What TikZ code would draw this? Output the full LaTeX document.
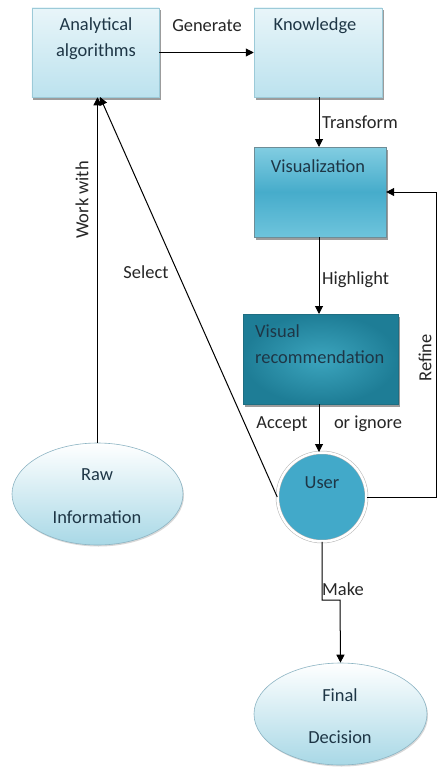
\documentclass[tikz,border=0pt]{standalone}
\usepackage{fontspec}
\setmainfont{Carlito}
\usetikzlibrary{shapes.geometric,arrows.meta,shadows,calc}
\definecolor{inktext}{HTML}{262626}
\definecolor{boxtext}{HTML}{1E3646}
\definecolor{edgeblue}{HTML}{9CCAD8}
\definecolor{paletop}{HTML}{E8F5F9}
\definecolor{palebot}{HTML}{BCE2EE}
\begin{document}
\begin{tikzpicture}[x=1bp,y=-1bp,
  font=\fontsize{18.5}{26}\selectfont,
  every node/.style={inner sep=0pt},
  lightbox/.style={rectangle, draw=edgeblue, line width=0.5bp,
    top color=paletop, bottom color=palebot,
    drop shadow={shadow xshift=1.5bp, shadow yshift=-2.5bp, fill=black!55, opacity=0.7}},
  midbox/.style={rectangle, draw=edgeblue!70!black, line width=0.4bp,
    top color={rgb,255:red,130;green,205;blue,225}, bottom color={rgb,255:red,110;green,196;blue,220},
    middle color={rgb,255:red,70;green,172;blue,203},
    drop shadow={shadow xshift=1.5bp, shadow yshift=-2.5bp, fill=black!55, opacity=0.7}},
  darkbox/.style={rectangle, draw={rgb,255:red,30;green,110;blue,130}, line width=0.4bp,
    shading=radial, inner color={rgb,255:red,60;green,165;blue,190}, outer color={rgb,255:red,30;green,125;blue,150},
    drop shadow={shadow xshift=1.5bp, shadow yshift=-2.5bp, fill=black!55, opacity=0.7}},
  oval/.style={ellipse, draw={rgb,255:red,140;green,180;blue,195}, line width=0.6bp,
    top color=white, bottom color={rgb,255:red,168;green,216;blue,230},
    drop shadow={shadow xshift=1bp, shadow yshift=-1.5bp, fill=black!30, opacity=0.5}},
  txt/.style={text=boxtext, align=center},
  lbl/.style={text=inktext},
  conn/.style={draw=black, line width=1bp},
  arr/.style={conn, -{Triangle[length=8bp,width=8bp]}}
]
\useasboundingbox (0,0) rectangle (437,767);
\fill[white] (0,0) rectangle (437,767);

% boxes
\node[lightbox, minimum width=127bp, minimum height=89bp] (alg) at (95.5,52.5) {};
\node[txt] (algtext) at (96,39) {Analytical\\algorithms};
\node[lightbox, minimum width=128bp, minimum height=89bp] (know) at (318,52.5) {};
\node[txt] (knowtext) at (315,26) {Knowledge};
\node[midbox, minimum width=132bp, minimum height=90bp] (vis) at (320,192) {};
\node[txt] (vistext) at (318,166) {Visualization};
\node[darkbox, minimum width=155bp, minimum height=90bp] (rec) at (320.5,359) {};
\node[txt, align=left, anchor=west] (rectext) at (255,344) {Visual\\recommendation};

% user circle
\node[circle, minimum size=89bp, fill={rgb,255:red,66;green,169;blue,201},
  draw=black!30, double=white, double distance=2.5bp, line width=0.5bp] (user) at (322,497) {};
\node[txt] (usertext) at (322,483) {User};

% ovals
\node[oval, minimum width=171bp, minimum height=102bp] (raw) at (97.5,494) {};
\node[txt] (rawtext1) at (97,475) {Raw};
\node[txt] (rawtext2) at (97,517) {Information};
\node[oval, minimum width=173bp, minimum height=102bp] (fd) at (340.5,714) {};
\node[txt] (fdtext1) at (340,695) {Final};
\node[txt] (fdtext2) at (340,737) {Decision};

% bends of the connectors
\coordinate (rx) at (436,0);
\coordinate (selend) at (100,97);
\coordinate (mk1) at (322,600);
\coordinate (mk2) at (340,600);

% connectors
\draw[arr] (alg.east) -- (know.west);
\draw[arr] (319,97) -- (319,147);
\draw[arr] (319,237) -- (319,314);
\draw[arr] (319,404) -- (319,452);
\draw[arr] (user.east) -- (user.east -| rx) -- (rx |- vis.east) -- (vis.east);
\draw[arr] (user.west) -- (selend);
\draw[arr] (raw.north) -- (raw.north |- alg.south);
\draw[arr] (user.south) -- (mk1) -- (mk2) -- (fd.north);

% connector labels
\node[lbl] (lgen) at (207,26) {Generate};
\node[lbl, anchor=west] (ltra) at (322,122) {Transform};
\node[lbl, anchor=west] (lhig) at (322,280) {Highlight};
\node[lbl] (lacc) at (282,424) {Accept};
\node[lbl] (lign) at (368,424) {or ignore};
\node[lbl] (lsel) at (146,272) {Select};
\node[lbl, rotate=90] (lwork) at (82,200) {Work with};
\node[lbl, rotate=90] (lref) at (425,358) {Refine};
\node[lbl, anchor=west] (lmake) at (322,589) {Make};
\end{tikzpicture}
\end{document}
